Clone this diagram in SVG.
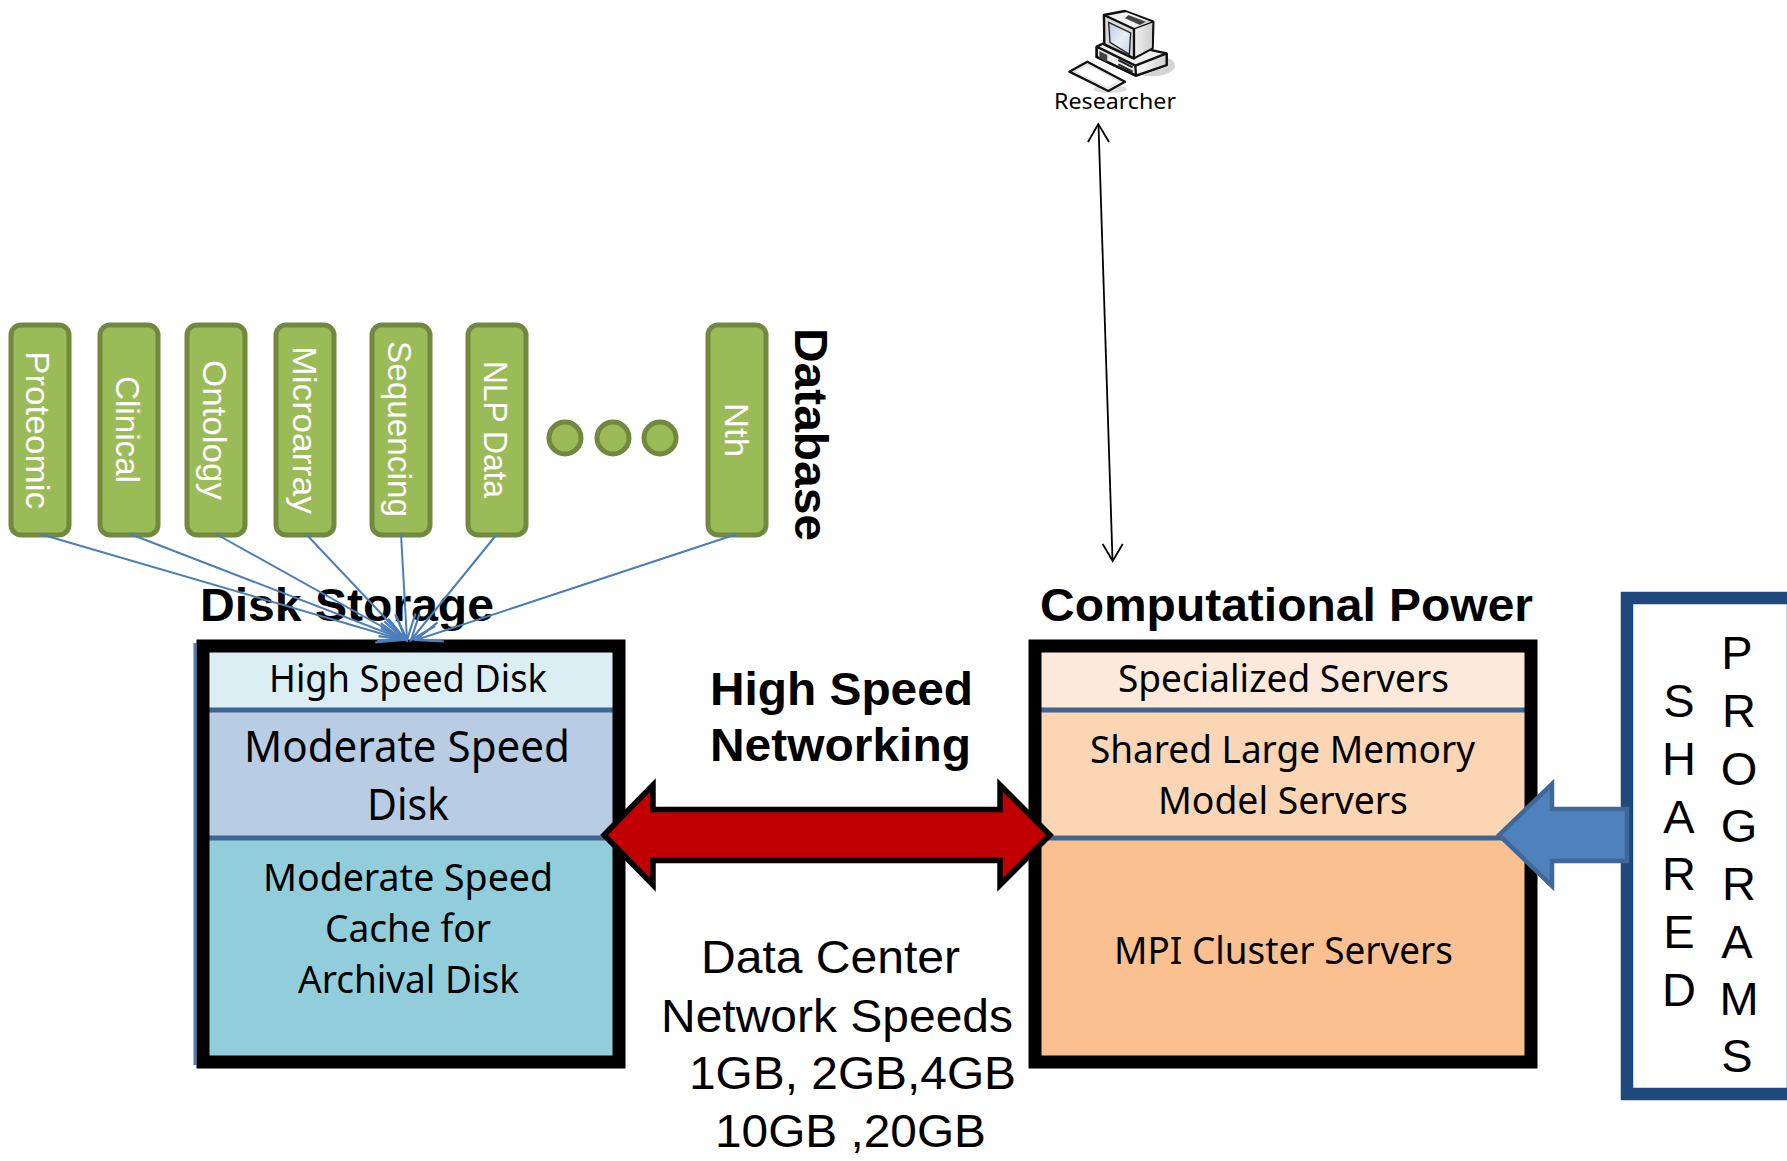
<svg xmlns="http://www.w3.org/2000/svg" width="1787" height="1161" viewBox="0 0 1787 1161">
<style>
.db{fill:#9bbb59;stroke:#71893f;stroke-width:5}
.dbt{font:34px "Liberation Sans",Arial,sans-serif;fill:#fff}
.h{font:bold 47px "Liberation Sans",Arial,sans-serif;fill:#000}
.r{font:47px "Liberation Sans",Arial,sans-serif;fill:#000}
.c{font:38px "Noto Sans","Open Sans",sans-serif;fill:#000}
.c2{font:44px "Noto Sans","Open Sans",sans-serif;fill:#000}
.frame{fill:none;stroke:#000;stroke-width:13}
.div{stroke:#3e6492;stroke-width:5}
.feed{stroke:#4a7ebb;stroke-width:2;fill:none;marker-end:url(#open)}
.let{font:47px "Liberation Sans",Arial,sans-serif;fill:#000;text-anchor:middle}
.ic{stroke:#111;stroke-width:7;stroke-linejoin:round}
</style>
<defs>
<marker id="open" markerUnits="userSpaceOnUse" markerWidth="34" markerHeight="28" refX="30" refY="14" orient="auto"><path d="M4 4 L30 14 L4 24" fill="none" stroke="#4a7ebb" stroke-width="2.2"/></marker>
<linearGradient id="scr" x1="0" y1="0" x2="1" y2="1"><stop offset="0" stop-color="#b9c8e0"/><stop offset=".55" stop-color="#e9eff8"/><stop offset="1" stop-color="#c4d2e6"/></linearGradient>
<linearGradient id="cs" x1="0" y1="0" x2="1" y2="0"><stop offset="0" stop-color="#fff"/><stop offset="1" stop-color="#cfcfcf"/></linearGradient>
</defs>
<rect width="1787" height="1161" fill="#fff"/>

<g id="researcher">
<g transform="translate(1060 5) scale(.3333)">
<ellipse cx="275" cy="182" rx="70" ry="32" fill="#d4d4d4"/>
<ellipse cx="150" cy="252" rx="50" ry="12" fill="#ddd"/>
<path class="ic" d="M110 125 L145 108 L320 145 L320 180 L228 212 L110 156Z" fill="#eee"/>
<path d="M226 182 L320 145 L320 180 L228 212Z" fill="url(#cs)"/>
<path class="ic" d="M110 125 L226 182 L320 145 M226 182 L228 212 L320 180 L320 145 M110 125 L110 156 L228 212" fill="none"/>
<path d="M118 138 L142 150 L142 172 L118 160Z" fill="#444"/>
<path d="M175 165 L218 187 M175 178 L218 200" stroke="#222" stroke-width="6"/>
<path class="ic" d="M132 30 L195 18 L280 50 L278 130 L222 160 L133 118Z" fill="#f4f4f4"/>
<path d="M198 21 L277 52 L275 128 L224 155 L224 74Z" fill="url(#cs)"/>
<path d="M205 30 L258 50 L240 60 L195 40Z" fill="#444"/>
<path class="ic" d="M132 30 L222 72 L222 160 L133 118Z" fill="#d8d8d8"/>
<path d="M146 52 L212 84 L208 148 L150 112Z" fill="url(#scr)" stroke="#222" stroke-width="4"/>
<path d="M222 72 L280 50" stroke="#111" stroke-width="4"/>
<circle cx="203" cy="148" r="4" fill="#333"/>
<path class="ic" d="M28 200 L82 170 L195 230 L145 258Z" fill="#f2f2f2"/>
<path d="M42 200 L84 178 L178 229 L143 248Z" fill="#fff" stroke="#ccc" stroke-width="2"/>
</g>
<text x="1054" y="109" font-family="Noto Sans, Open Sans, sans-serif" font-size="22" textLength="122" lengthAdjust="spacingAndGlyphs">Researcher</text>
</g>

<g id="database-titles">
<text class="h" transform="translate(795 328) rotate(90)" textLength="213" lengthAdjust="spacingAndGlyphs">Database</text>
<text class="h" x="200" y="621" textLength="294" lengthAdjust="spacingAndGlyphs">Disk Storage</text>
<text class="h" x="1040" y="621" textLength="493" lengthAdjust="spacingAndGlyphs">Computational Power</text>
</g>

<g id="db-proteomic"><rect class="db" x="11" y="325" width="58" height="210" rx="10"/><text class="dbt" transform="translate(26 351) rotate(90)" textLength="158" lengthAdjust="spacingAndGlyphs">Proteomic</text></g>
<g id="db-clinical"><rect class="db" x="100" y="325" width="58" height="210" rx="10"/><text class="dbt" transform="translate(116 376) rotate(90)" textLength="107" lengthAdjust="spacingAndGlyphs">Clinical</text></g>
<g id="db-ontology"><rect class="db" x="187" y="325" width="58" height="210" rx="10"/><text class="dbt" transform="translate(203 360) rotate(90)" textLength="140" lengthAdjust="spacingAndGlyphs">Ontology</text></g>
<g id="db-microarray"><rect class="db" x="276" y="325" width="58" height="210" rx="10"/><text class="dbt" transform="translate(293 346) rotate(90)" textLength="168" lengthAdjust="spacingAndGlyphs">Microarray</text></g>
<g id="db-sequencing"><rect class="db" x="372" y="325" width="58" height="210" rx="10"/><text class="dbt" transform="translate(388 341) rotate(90)" textLength="176" lengthAdjust="spacingAndGlyphs">Sequencing</text></g>
<g id="db-nlp"><rect class="db" x="468" y="325" width="58" height="210" rx="10"/><text class="dbt" transform="translate(484 361) rotate(90)" textLength="137" lengthAdjust="spacingAndGlyphs">NLP Data</text></g>
<g id="dots"><circle class="db" cx="565" cy="438" r="16"/><circle class="db" cx="613" cy="438" r="16"/><circle class="db" cx="660" cy="438" r="16"/></g>
<g id="db-nth"><rect class="db" x="708" y="325" width="58" height="210" rx="10"/><text class="dbt" transform="translate(725 403) rotate(90)" textLength="54" lengthAdjust="spacingAndGlyphs">Nth</text></g>

<g id="disk-storage">
<line x1="195" y1="643" x2="195" y2="1065" stroke="#4a7ebb" stroke-width="3"/>
<rect x="203" y="646" width="416" height="64" fill="#daeef3"/>
<rect x="203" y="710" width="416" height="128" fill="#b8cce4"/>
<rect x="203" y="838" width="416" height="224" fill="#92cddc"/>
<line class="div" x1="203" y1="710" x2="619" y2="710"/>
<line class="div" x1="203" y1="838" x2="619" y2="838"/>
<rect class="frame" x="203" y="646" width="416" height="416"/>
<text class="c" x="269" y="692" textLength="278" lengthAdjust="spacingAndGlyphs">High Speed Disk</text>
<text class="c2" x="244" y="762" textLength="326" lengthAdjust="spacingAndGlyphs">Moderate Speed</text>
<text class="c2" x="367" y="820" textLength="82" lengthAdjust="spacingAndGlyphs">Disk</text>
<text class="c" x="263" y="891" textLength="290" lengthAdjust="spacingAndGlyphs">Moderate Speed</text>
<text class="c" x="325" y="942" textLength="166" lengthAdjust="spacingAndGlyphs">Cache for</text>
<text class="c" x="298" y="993" textLength="221" lengthAdjust="spacingAndGlyphs">Archival Disk</text>
</g>

<g id="computational-power">
<rect x="1035" y="646" width="496" height="64" fill="#fde9d9"/>
<rect x="1035" y="710" width="496" height="128" fill="#fcd5b5"/>
<rect x="1035" y="838" width="496" height="224" fill="#fac090"/>
<line class="div" x1="1035" y1="710" x2="1531" y2="710"/>
<line class="div" x1="1035" y1="838" x2="1531" y2="838"/>
<rect class="frame" x="1035" y="646" width="496" height="416"/>
<text class="c" x="1118" y="692" textLength="331" lengthAdjust="spacingAndGlyphs">Specialized Servers</text>
<text class="c" x="1090" y="763" textLength="385" lengthAdjust="spacingAndGlyphs">Shared Large Memory</text>
<text class="c" x="1158" y="814" textLength="250" lengthAdjust="spacingAndGlyphs">Model Servers</text>
<text class="c" x="1114" y="964" textLength="339" lengthAdjust="spacingAndGlyphs">MPI Cluster Servers</text>
</g>

<g id="shared-programs">
<rect x="1627" y="598" width="166" height="496" fill="#fff" stroke="#1f497d" stroke-width="12.5"/>
<text class="let" x="1679" y="717">S</text><text class="let" x="1679" y="775">H</text><text class="let" x="1679" y="833">A</text><text class="let" x="1679" y="890">R</text><text class="let" x="1679" y="948">E</text><text class="let" x="1679" y="1006">D</text>
<text class="let" x="1737" y="669">P</text><text class="let" x="1739" y="727">R</text><text class="let" x="1739" y="785">O</text><text class="let" x="1739" y="842">G</text><text class="let" x="1739" y="900">R</text><text class="let" x="1737" y="958">A</text><text class="let" x="1739" y="1015">M</text><text class="let" x="1737" y="1072">S</text>
</g>

<g id="network-labels">
<text class="h" x="710" y="705" textLength="263" lengthAdjust="spacingAndGlyphs">High Speed</text>
<text class="h" x="710" y="761" textLength="261" lengthAdjust="spacingAndGlyphs">Networking</text>
<text class="r" x="701" y="973" textLength="259" lengthAdjust="spacingAndGlyphs">Data Center</text>
<text class="r" x="661" y="1032" textLength="352" lengthAdjust="spacingAndGlyphs">Network Speeds</text>
<text class="r" x="689" y="1089" textLength="327" lengthAdjust="spacingAndGlyphs">1GB, 2GB,4GB</text>
<text class="r" x="715" y="1147" textLength="271" lengthAdjust="spacingAndGlyphs">10GB ,20GB</text>
</g>

<g id="connectors">
<path id="red-arrow" d="M604 835 L653 785 L653 809.5 L1000 809.5 L1000 785 L1050 835 L1000 885 L1000 860.5 L653 860.5 L653 885Z" fill="#c00000" stroke="#000" stroke-width="5.5"/>
<path id="blue-arrow" d="M1499 835 L1552 784 L1552 809 L1627 809 L1627 861 L1552 861 L1552 886Z" fill="#4f81bd" stroke="#3f6797" stroke-width="4.5"/>
<line class="feed" x1="40" y1="534" x2="403" y2="640"/>
<line class="feed" x1="130" y1="534" x2="405" y2="640"/>
<line class="feed" x1="216" y1="534" x2="406" y2="640"/>
<line class="feed" x1="306" y1="534" x2="406" y2="640"/>
<line class="feed" x1="401" y1="534" x2="407" y2="640"/>
<line class="feed" x1="497" y1="534" x2="411" y2="640"/>
<line class="feed" x1="737" y1="534" x2="416" y2="640"/>
<g id="researcher-link" fill="none" stroke="#000" stroke-width="1.8">
<line x1="1098.5" y1="125" x2="1112.5" y2="560"/>
<path d="M1088 142 L1098.3 124 L1109 142"/>
<path d="M1102.7 544 L1112.7 561 L1122.7 544"/>
</g>
</g>
</svg>
